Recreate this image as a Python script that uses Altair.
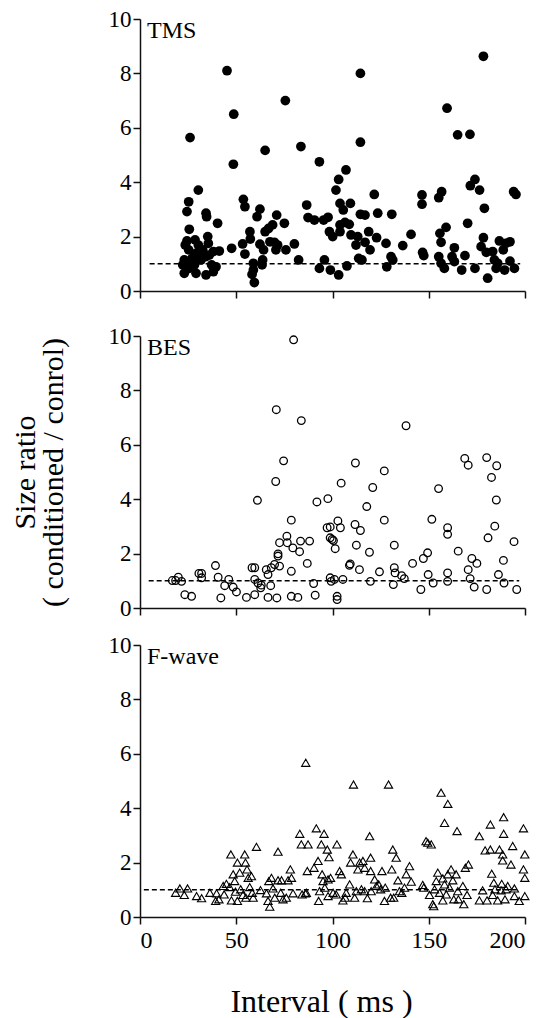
import altair as alt
import pandas as pd

# ---------------- data ----------------
TMS_X = [26, 25.3, 24.4, 25.6, 30.3, 23.5, 24.4, 28.6, 30.3, 25.3, 23, 22.2, 23, 25.6, 28.3, 24.2, 27, 29.1,
         30.8, 29.1, 34.3, 34.6, 35.2, 35.5, 32.6, 33.9, 36, 31.7, 34.3, 37.2, 39.5, 38.1, 40.3, 41.2, 38.1,
         45.2, 48.7, 48.5, 47.6, 53.7, 54.5, 53.3, 54.5, 57.1, 57.3, 60.8, 62.3, 58.9, 58.9, 58.2, 59.4, 63.7,
         63.4, 65, 62.3, 64.2, 65, 66.8, 68.9, 71, 67.5, 69.8, 71.5, 70.6, 75, 75.8, 75.5, 80.2, 82.4, 83.6,
         86.6, 87.3, 90.6, 93.2, 95.4, 97.7, 93.2, 95.8, 98.4, 100.1, 101.8, 103.2, 107, 103.9, 105.6, 103.9,
         106.5, 103.9, 98.9, 103.2, 107.5, 109.3, 108.7, 109.6, 114.5, 114.5, 113.1, 112.2, 113.6, 115.3,
         114.5, 116.9, 116.9, 118.8, 119.5, 121.7, 123.5, 122.9, 127.8, 128.2, 130.8, 130.4, 131.3, 136.5,
         140.8, 146.5, 146.5, 146.8, 147.4, 155.2, 156.7, 155.8, 156.4, 159, 159.5, 155.2, 156.4, 158.1,
         162.1, 163.3, 163.3, 167.1, 168.8, 165, 171.4, 170.2, 171.6, 174, 176.4, 178.9, 178.4, 174, 178.4,
         177.2, 179.9, 180.6, 183.2, 184.1, 185, 185.8, 186.7, 188.7, 190.1, 192.2, 192.2, 189.4, 194.5,
         194.1, 195.3]
TMS_Y = [5.64, 3.28, 2.92, 2.27, 3.71, 1.69, 1.84, 1.88, 1.69, 1.51, 1.14, 0.96, 0.65, 0.83, 0.96, 1.02, 1.2,
         0.65, 1.2, 1.38, 2.86, 2.73, 2.0, 1.75, 1.51, 1.26, 1.32, 1.14, 0.59, 0.96, 0.89, 0.71, 2.49, 1.47,
         1.45, 8.1, 6.5, 4.66, 1.57, 3.37, 3.1, 1.73, 1.36, 2.18, 1.91, 2.73, 3.01, 1.02, 0.77, 0.61, 0.31,
         1.14, 0.96, 5.17, 1.72, 1.51, 2.18, 2.3, 2.43, 2.79, 1.81, 1.79, 1.69, 1.51, 2.49, 1.51, 7.0, 1.73,
         1.14, 5.31, 3.16, 2.7, 2.61, 4.75, 2.61, 2.71, 0.83, 1.14, 2.18, 2.0, 3.71, 4.1, 4.45, 3.22, 2.98,
         2.43, 2.52, 2.18, 0.77, 0.59, 0.92, 3.22, 2.45, 2.06, 8.0, 5.47, 2.0, 1.69, 1.2, 1.14, 2.82, 2.79,
         1.79, 2.18, 1.51, 3.55, 2.86, 1.96, 1.75, 0.89, 2.82, 1.26, 1.14, 1.67, 2.08, 3.53, 3.19, 1.42, 1.3,
         3.43, 3.65, 2.12, 1.79, 2.34, 6.72, 1.26, 1.02, 0.83, 1.26, 1.59, 1.08, 0.77, 1.3, 5.74, 5.76, 2.49,
         3.87, 4.1, 3.71, 3.04, 8.63, 0.83, 1.96, 1.63, 1.42, 0.47, 1.45, 1.14, 0.83, 1.02, 1.84, 1.51, 1.75,
         1.81, 1.1, 0.77, 0.83, 3.65, 3.55]

BES_X = [16.8, 18.5, 19.9, 21.6, 23.3, 26.8, 30.6, 32, 32, 39.2, 40.6, 42, 44, 46.1, 48.4, 50.1, 55.3, 58.2,
         59.6, 59.6, 59.6, 61.3, 62.7, 63, 61, 65.6, 66.5, 68.2, 67.9, 66.5, 71.1, 70.5, 70.8, 69.9, 71.7,
         71.7, 72.5, 72.5, 76.3, 76.5, 74.6, 78.6, 79.4, 78.6, 78.6, 82, 79.8, 83.8, 82.9, 83.4, 88.1, 86.9,
         90.2, 91, 91.9, 97.6, 97.2, 98.8, 98.8, 99.8, 100.5, 101.4, 98.8, 99.3, 101, 105.4, 102.4, 102.4,
         102.8, 104.1, 104.5, 108.8, 109.2, 114, 111.9, 111.7, 112.4, 114.5, 119.2, 119.7, 117.8, 120.9,
         124.4, 126.9, 126.9, 132.1, 131.6, 132.1, 132.5, 135.9, 137.3, 138.2, 141.6, 145.9, 147.2, 149.4,
         149.7, 152.3, 151.6, 155.1, 159.8, 159.8, 159.8, 159.8, 165.3, 168.7, 170.5, 170.5, 171.5, 172.4,
         175, 173.6, 180.1, 182.6, 185.3, 185.1, 184.3, 180.8, 180.1, 186.2, 188.8, 189.1, 194.3, 195.7]
BES_Y = [1.01, 1.01, 1.13, 0.98, 0.49, 0.43, 1.27, 1.27, 1.11, 1.56, 1.13, 0.37, 0.82, 1.05, 0.77, 0.59, 0.39,
         1.48, 1.48, 1.05, 0.49, 0.92, 0.74, 0.84, 3.96, 1.41, 1.23, 1.48, 0.82, 0.39, 0.37, 4.65, 7.29, 1.6,
         1.91, 1.99, 1.54, 2.4, 2.64, 2.4, 5.41, 3.23, 2.21, 1.35, 0.43, 0.39, 9.86, 6.89, 2.07, 2.46, 2.46,
         1.64, 0.9, 0.47, 3.9, 4.02, 2.95, 2.98, 2.58, 2.52, 2.48, 2.18, 1.11, 0.98, 1.05, 1.05, 0.43, 0.31,
         3.2, 2.95, 4.59, 1.57, 1.62, 1.41, 5.33, 3.07, 2.31, 2.85, 2.05, 0.98, 3.73, 4.43, 1.33, 5.04, 3.23,
         2.31, 0.86, 1.48, 1.29, 1.19, 1.08, 6.7, 1.64, 0.68, 1.82, 2.03, 1.23, 0.92, 3.26, 4.39, 2.95, 2.71,
         1.29, 0.98, 2.09, 5.5, 5.25, 1.41, 1.08, 1.82, 1.64, 0.77, 5.53, 4.8, 5.23, 3.97, 3.01, 2.58, 0.68,
         1.23, 1.75, 0.92, 2.44, 0.68]

FW_X = [18.5, 20.7, 23, 24.7, 29.4, 32, 36.3, 39.8, 39.3, 41, 43.2, 43.7, 44.9, 46.6, 47.2, 47.5, 48.4, 49.6,
        49.2, 50.6, 50.6, 51.8, 52.3, 53.5, 54.4, 54.8, 55.6, 56.2, 57, 57.9, 58.3, 58.8, 55, 60.5, 62.6,
        65.7, 66.9, 67.4, 66.5, 68.3, 69.1, 70, 71.7, 71.7, 73.1, 73.5, 74.3, 76, 76.9, 78.1, 78.7, 79.5,
        83, 83.8, 84.2, 85.9, 86.4, 86.1, 87.3, 86.9, 90.4, 91.6, 92.5, 93.3, 92.8, 94.2, 94.6, 95.1, 95.6,
        96, 97.3, 97.7, 97.7, 98.2, 99, 100.3, 102.3, 101.9, 103.7, 104.6, 105.4, 106.6, 107.1, 108.9, 109.4,
        110.6, 110.9, 111.5, 112.4, 113.2, 114.1, 115, 115.8, 116.7, 116.7, 118.1, 119.3, 119.8, 120.1,
        119.8, 121.9, 122.8, 124, 125, 125.7, 127, 127.4, 129.1, 130.2, 130.8, 131.3, 131.8, 133.1, 134,
        134.8, 136, 137.4, 138.3, 140, 140.9, 146.9, 147.4, 148.6, 149.5, 150.4, 151.3, 152.1, 152.6, 153,
        153.9, 154.7, 155.6, 156.4, 157.3, 157.3, 158.2, 158.2, 159.1, 159.9, 159.9, 160.8, 161.6, 162.5,
        163, 164.2, 164.7, 165.1, 165.4, 167.7, 168.2, 169, 169.9, 170.6, 176.3, 176.3, 178, 179.3, 180.3,
        182, 182, 182.7, 183.2, 183.8, 184.4, 185.8, 186.7, 187.6, 187.9, 188.4, 188.4, 188.9, 188.9, 189.6,
        190.1, 191, 192.7, 193.6, 194.5, 194.5, 197, 199.2, 199.9, 199.2, 199.9, 199.9]
FW_Y = [0.89, 1.05, 0.81, 1.05, 0.77, 0.69, 0.89, 0.87, 0.59, 0.65, 1.14, 0.83, 1.22, 1.1, 2.3, 0.61, 1.57,
        0.93, 1.32, 2.0, 0.59, 1.63, 1.02, 0.81, 2.3, 2.0, 1.75, 1.44, 1.1, 1.5, 0.89, 0.71, 0.71, 2.58, 0.99,
        0.87, 1.32, 0.38, 0.59, 1.44, 1.05, 0.71, 2.4, 1.35, 0.89, 1.35, 0.65, 0.71, 1.35, 1.75, 1.44, 0.87,
        3.06, 2.67, 0.83, 0.87, 0.89, 5.67, 2.67, 1.69, 1.81, 3.26, 2.06, 0.95, 0.59, 2.67, 1.57, 1.32, 3.06,
        1.08, 2.48, 1.38, 0.77, 2.2, 1.44, 0.89, 2.67, 0.83, 1.69, 1.57, 0.61, 0.71, 0.89, 1.2, 2.0, 2.3,
        4.87, 0.71, 0.95, 1.75, 2.0, 1.02, 2.06, 0.95, 1.81, 0.69, 2.97, 2.18, 0.95, 1.69, 1.38, 1.14, 1.2,
        1.02, 1.69, 0.59, 1.08, 4.87, 0.71, 1.75, 2.48, 0.71, 2.18, 1.35, 0.95, 0.89, 1.08, 1.57, 1.87, 1.3,
        1.18, 1.08, 2.79, 2.73, 0.81, 2.67, 0.47, 0.4, 1.02, 1.32, 1.63, 0.89, 4.57, 1.42, 0.61, 3.46, 1.2,
        0.83, 4.16, 1.57, 1.08, 1.75, 1.35, 0.65, 1.57, 3.16, 0.95, 0.65, 1.14, 0.47, 1.81, 0.81, 1.93, 2.97,
        0.61, 0.98, 2.45, 0.61, 3.4, 2.48, 1.59, 0.81, 1.26, 1.02, 0.61, 2.48, 0.98, 1.22, 2.08, 2.3, 3.67,
        3.06, 0.65, 1.02, 1.14, 1.93, 2.61, 1.05, 0.77, 0.59, 3.26, 2.3, 1.75, 1.44, 0.77]

PANEL_LABELS = ["TMS", "BES", "F-wave"]
DASH_START = [5, 4.5, 2]
DASH_END = [197.5, 197, 197]
X_TICKS = [0, 50, 100, 150, 200]
Y_TICKS = [0, 2, 4, 6, 8, 10]
Y_TITLE = ["Size ratio", "( conditioned / conrol)"]
X_TITLE = "Interval ( ms )"

FONT = "Times New Roman, Liberation Serif, serif"
W, H = 385, 272


def panel(xs, ys, idx, mark, show_x_labels, y_title, extra_bottom=0):
    df = pd.DataFrame({"x": xs, "y": ys})
    xax = dict(values=X_TICKS, tickSize=7, labels=show_x_labels, labelFont=FONT, labelFontSize=24,
               labelPadding=4, labelColor="black", titleFont=FONT, titleFontSize=32,
               titleFontWeight="normal", titleColor="black", titlePadding=34, titleX=181)
    scale_x = alt.Scale(domain=[0, 200], nice=False)
    if show_x_labels:
        xenc = alt.X("x:Q", scale=scale_x, axis=alt.Axis(**xax), title=X_TITLE)
    else:
        xenc = alt.X("x:Q", scale=scale_x, axis=alt.Axis(**xax), title=None)
    yax = dict(values=Y_TICKS, tickSize=7, labelFont=FONT, labelFontSize=23, labelPadding=2,
               labelColor="black", titleFont=FONT, titleFontSize=30, titleFontWeight="normal",
               titleColor="black", titlePadding=40, titleLineHeight=28)
    scale_y = alt.Scale(domain=[0, 10], nice=False)
    if y_title:
        yenc = alt.Y("y:Q", scale=scale_y, axis=alt.Axis(**yax), title=Y_TITLE)
    else:
        yenc = alt.Y("y:Q", scale=scale_y, axis=alt.Axis(**yax), title=None)

    pts = alt.Chart(df).mark_point(**mark).encode(x=xenc, y=yenc)

    rule_df = pd.DataFrame({"x": [DASH_START[idx]], "x2": [DASH_END[idx]], "y": [1.0]})
    rule = alt.Chart(rule_df).mark_rule(color="black", strokeDash=[5, 3], strokeWidth=1.5).encode(
        x="x:Q", x2="x2:Q", y="y:Q")

    lab_df = pd.DataFrame({"label": [PANEL_LABELS[idx]]})
    lab = alt.Chart(lab_df).mark_text(align="left", baseline="alphabetic", font=FONT, fontSize=24,
                                      color="black").encode(
        x=alt.value(7), y=alt.value(19), text="label:N")

    layers = [rule, pts, lab]
    if extra_bottom:
        # invisible spacer below the plot, so that the gap under this panel is wider
        spacer = alt.Chart(lab_df).mark_rule(opacity=0).encode(
            x=alt.value(0), y=alt.value(H), y2=alt.value(H + extra_bottom))
        layers.append(spacer)
    return alt.layer(*layers).properties(width=W, height=H)


p1 = panel(TMS_X, TMS_Y, 0, dict(shape="circle", filled=True, color="black", size=95, opacity=1),
           False, False, extra_bottom=20)
p2 = panel(BES_X, BES_Y, 1, dict(shape="circle", filled=False, color="black", size=58, strokeWidth=1.3,
                                 opacity=1), False, True)
p3 = panel(FW_X, FW_Y, 2, dict(shape="triangle-up", filled=False, color="black", size=68, strokeWidth=1.1,
                               opacity=1), True, False)

chart = alt.vconcat(p1, p2, p3, spacing=14).properties(
    padding={"left": 2, "top": 0, "right": 5, "bottom": 5}
).configure(font=FONT).configure_view(stroke=None).configure_axis(
    grid=False, domainColor="#111", tickColor="#111", domainWidth=1.5, tickWidth=1.5,
    labelFont=FONT, titleFont=FONT, labelColor="black", titleColor="black",
    titleFontWeight="normal"
).configure_text(font=FONT)

chart.save("out.html", embed_options={"renderer": "svg", "actions": False})
